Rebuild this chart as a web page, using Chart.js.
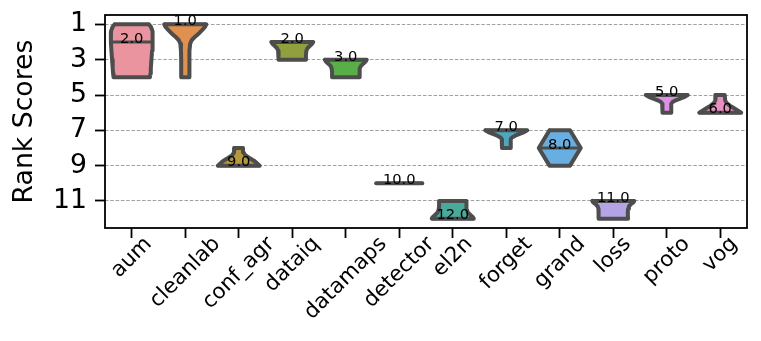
<!DOCTYPE html>
<html>
<head>
<meta charset="utf-8">
<script src="https://cdn.jsdelivr.net/npm/chart.js@4.4.0/dist/chart.umd.min.js"></script>
<style>
    body { margin: 0; background: #fff; }
    #wrap { width: 761px; height: 341px; position: relative; }
</style>
</head>
<body>
<div id="wrap"><canvas id="rankChart"></canvas></div>
<script>
const categories = ['aum', 'cleanlab', 'conf_agr', 'dataiq', 'datamaps', 'detector',
                    'el2n', 'forget', 'grand', 'loss', 'proto', 'vog'];
const medians = [2, 1, 9, 2, 3, 10, 12, 7, 8, 11, 5, 6];

// violin outline: ranks down each violin and relative half-widths at those ranks
const profileRanks = [
    [1, 1.15, 1.4, 1.7, 2, 2.5, 3, 3.5, 3.8, 4],
    [1, 1.15, 1.3, 1.5, 1.7, 1.9, 2.1, 2.5, 3, 4],
    [8, 8.25, 8.4, 8.55, 8.75, 9],
    [2, 2.1, 2.2, 2.35, 2.5, 2.7, 3],
    [3, 3.1, 3.2, 3.35, 3.5, 3.7, 4],
    [10, 10],
    [11, 11.3, 11.5, 11.65, 11.8, 11.9, 12],
    [7, 7.1, 7.2, 7.3, 7.4, 7.5, 8],
    [7, 8, 9],
    [11, 11.1, 11.2, 11.3, 11.45, 11.7, 12],
    [5, 5.1, 5.2, 5.3, 5.4, 5.5, 6],
    [5, 5.3, 5.45, 5.6, 5.75, 5.9, 6]
];
const profileWidths = [
    [0.8, 0.9, 0.97, 0.98, 0.97, 0.95, 0.92, 0.89, 0.87, 0.85],
    [0.98, 0.92, 0.81, 0.65, 0.46, 0.3, 0.23, 0.2, 0.19, 0.19],
    [0.2, 0.22, 0.3, 0.48, 0.75, 0.98],
    [0.98, 0.93, 0.84, 0.71, 0.66, 0.64, 0.64],
    [0.98, 0.93, 0.84, 0.71, 0.66, 0.64, 0.64],
    [1.08, 1.08],
    [0.64, 0.64, 0.66, 0.71, 0.84, 0.93, 0.98],
    [0.98, 0.84, 0.63, 0.42, 0.27, 0.21, 0.2],
    [0.48, 0.98, 0.48],
    [0.98, 0.92, 0.81, 0.73, 0.69, 0.68, 0.69],
    [0.98, 0.84, 0.63, 0.42, 0.27, 0.21, 0.2],
    [0.21, 0.23, 0.29, 0.45, 0.65, 0.85, 0.98]
];
const fillColors = ['#e9949f', '#e0904f', '#b5993c', '#919f3e', '#5aae48', '#52ad88',
                    '#4aa99b', '#4ba8be', '#68aee0', '#b4a4e6', '#e08fe6', '#e98fc2'];
const yTicks = [1, 3, 5, 7, 9, 11];

const HALF = 0.4;
const edgeColor = '#4d4d4d';
const FONT = 'DejaVu Sans';

function violinPoints(i) {
    const r = profileRanks[i], w = profileWidths[i];
    const left = r.map((y, k) => ({ x: i - HALF * w[k], y: y }));
    const right = r.map((y, k) => ({ x: i + HALF * w[k], y: y })).reverse();
    return left.concat(right, [left[0]]);
}

function medianLine(i) {
    const k = profileRanks[i].indexOf(medians[i]);
    const w = k >= 0 ? profileWidths[i][k] : 1;
    return [{ x: i - HALF * w, y: medians[i] }, { x: i + HALF * w, y: medians[i] }];
}

const datasets = [];
categories.forEach((c, i) => {
    datasets.push({
        data: violinPoints(i),
        showLine: true,
        fill: 'shape',
        backgroundColor: fillColors[i],
        borderColor: edgeColor,
        borderWidth: 4,
        borderJoinStyle: 'round',
        borderCapStyle: 'round',
        pointRadius: 0,
        tension: 0,
        order: 1
    });
    datasets.push({
        data: medianLine(i),
        showLine: true,
        fill: false,
        borderColor: edgeColor,
        borderWidth: 3,
        borderCapStyle: 'round',
        pointRadius: 0,
        order: 0
    });
});

const violinLabels = {
    id: 'violinLabels',
    afterDatasetsDraw(chart) {
        const { ctx, scales } = chart;
        ctx.save();
        ctx.fillStyle = '#000';
        ctx.font = '14.7px "' + FONT + '"';
        ctx.textAlign = 'center';
        ctx.textBaseline = 'middle';
        medians.forEach((m, i) => {
            ctx.fillText(m.toFixed(1), scales.x.getPixelForValue(i), scales.y.getPixelForValue(m) - 3);
        });
        ctx.restore();
    },
    afterDraw(chart) {
        const { ctx, chartArea, scales } = chart;
        ctx.save();
        // frame
        ctx.strokeStyle = '#000';
        ctx.lineWidth = 1.8;
        ctx.strokeRect(chartArea.left, chartArea.top, chartArea.right - chartArea.left, chartArea.bottom - chartArea.top);
        // rotated category labels, centred under their ticks
        const fs = 21.3;
        ctx.font = fs + 'px "' + FONT + '"';
        ctx.fillStyle = '#000';
        ctx.textAlign = 'center';
        ctx.textBaseline = 'middle';
        const top = chartArea.bottom + 4;
        categories.forEach((c, i) => {
            const L = ctx.measureText(c).width;
            const h = (L + fs * 1.17) * Math.SQRT1_2;
            ctx.save();
            ctx.translate(scales.x.getPixelForValue(i), top + h / 2);
            ctx.rotate(-Math.PI / 4);
            ctx.fillText(c, 0, 0);
            ctx.restore();
        });
        ctx.restore();
    }
};

new Chart(document.getElementById('rankChart').getContext('2d'), {
    type: 'scatter',
    data: { datasets: datasets },
    options: {
        responsive: true,
        maintainAspectRatio: false,
        animation: false,
        layout: { padding: { top: 15, right: 14, left: 0, bottom: 0 } },
        plugins: {
            legend: { display: false },
            tooltip: { enabled: false }
        },
        scales: {
            x: {
                type: 'linear',
                min: -0.5,
                max: 11.5,
                afterBuildTicks: s => { s.ticks = categories.map((c, i) => ({ value: i })); },
                afterFit: s => { s.height = 113; s.paddingLeft = 0; s.paddingRight = 0; },
                grid: { drawOnChartArea: false, color: '#000', tickColor: '#000', tickWidth: 1.8, tickLength: 10 },
                border: { display: false },
                ticks: { display: false }
            },
            y: {
                type: 'linear',
                reverse: true,
                min: 0.47,
                max: 12.53,
                afterBuildTicks: s => { s.ticks = yTicks.map(v => ({ value: v })); },
                afterFit: s => { s.width = 105; s.paddingTop = 0; s.paddingBottom = 0; },
                grid: { color: '#a0a0a0', lineWidth: 1, tickColor: '#000', tickWidth: 1.8, tickLength: 10, tickBorderDash: [] },
                border: { display: false, dash: [3.5, 1.8] },
                ticks: { color: '#000', padding: 8, font: { family: FONT, size: 26.7, lineHeight: 1 } },
                title: {
                    display: true,
                    text: 'Rank Scores',
                    color: '#000',
                    font: { family: FONT, size: 26.7 },
                    padding: { top: 9, bottom: 0 }
                }
            }
        }
    },
    plugins: [violinLabels]
});
</script>
</body>
</html>
